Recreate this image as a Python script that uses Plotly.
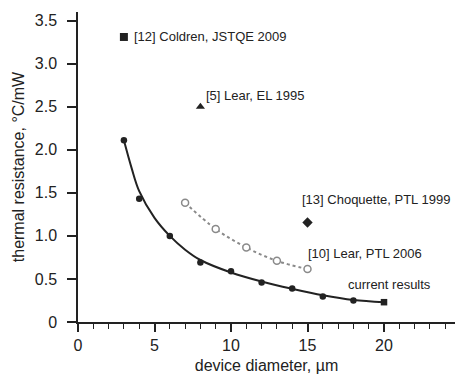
import plotly.graph_objects as go

# current results (measured points)
cur_x = [3, 4, 6, 8, 10, 12, 14, 16, 18, 20]
cur_y = [2.11, 1.43, 1.00, 0.69, 0.59, 0.46, 0.39, 0.295, 0.25, 0.23]
# fitted curve through current results
fit_x = [3, 3.5, 4, 5, 6, 7, 8, 10, 12, 14, 16, 18, 20]
fit_y = [2.11, 1.79, 1.52, 1.21, 1.00, 0.84, 0.72, 0.575, 0.47, 0.385, 0.31, 0.255, 0.23]
# [10] Lear, PTL 2006
lear06_x = [7, 9, 11, 13, 15]
lear06_y = [1.385, 1.08, 0.865, 0.71, 0.615]
# single literature points
ref_x = [3, 8, 15]
ref_y = [3.31, 2.50, 1.155]
ref_symbols = ["square", "triangle-up", "diamond"]

# labels
label_text = ["[12] Coldren, JSTQE 2009", "[5] Lear, EL 1995",
              "[13] Choquette, PTL 1999", "[10] Lear, PTL 2006", "current results"]
label_x = [3.6, 8.3, 14.6, 14.95, 17.6]
label_y = [3.31, 2.63, 1.42, 0.80, 0.43]

y_ticks = [0, 0.5, 1.0, 1.5, 2.0, 2.5, 3.0, 3.5]
y_ticktext = ["0", "0.5", "1.0", "1.5", "2.0", "2.5", "3.0", "3.5"]
x_ticks = [0, 5, 10, 15, 20]

dark = "#222222"
gray = "#8a8a8a"
font = "Liberation Sans, Arial, sans-serif"

fig = go.Figure()
fig.add_trace(go.Scatter(x=fit_x, y=fit_y, mode="lines", line=dict(color=dark, width=2, shape="spline"),
                         hoverinfo="skip"))
fig.add_trace(go.Scatter(x=cur_x, y=cur_y, mode="markers",
                         marker=dict(color=dark, size=6.5,
                                     symbol=["circle"] * (len(cur_x) - 1) + ["square"])))
fig.add_trace(go.Scatter(x=lear06_x, y=lear06_y, mode="lines+markers",
                         line=dict(color=gray, width=2, dash="dot", shape="spline"),
                         marker=dict(color="white", size=7, symbol="circle",
                                     line=dict(color=gray, width=1.5))))
fig.add_trace(go.Scatter(x=ref_x, y=ref_y, mode="markers",
                         marker=dict(color=dark, size=8, symbol=ref_symbols)))

for t, x, y in zip(label_text, label_x, label_y):
    fig.add_annotation(x=x, y=y, text=t, showarrow=False, xanchor="left", yanchor="middle",
                       font=dict(size=13, color=dark, family=font), borderpad=0)

fig.update_layout(
    width=455, height=374,
    margin=dict(l=78, r=0, t=12, b=52),
    paper_bgcolor="white", plot_bgcolor="white",
    showlegend=False,
    font=dict(family=font, color=dark, size=16),
)
fig.update_xaxes(range=[0, 24.64], tickvals=x_ticks, ticks="outside", ticklen=8, tickwidth=1.5,
                 tickcolor=dark, showline=True, linecolor=dark, linewidth=1.5, showgrid=False,
                 zeroline=False, tickfont=dict(size=16),
                 minor=dict(dtick=1, ticks="outside", ticklen=5, tickwidth=1.2, tickcolor=dark, showgrid=False),
                 title=dict(text="device diameter, µm", font=dict(size=16), standoff=8))
fig.update_yaxes(range=[0, 3.6], tickvals=y_ticks, ticktext=y_ticktext, ticks="outside", ticklen=9,
                 tickwidth=1.5, tickcolor=dark, showline=True, linecolor=dark, linewidth=1.5,
                 showgrid=False, zeroline=False, tickfont=dict(size=16), ticklabelstandoff=7,
                 title=dict(text="thermal resistance, °C/mW", font=dict(size=16), standoff=6))

fig.write_html("out.html")
